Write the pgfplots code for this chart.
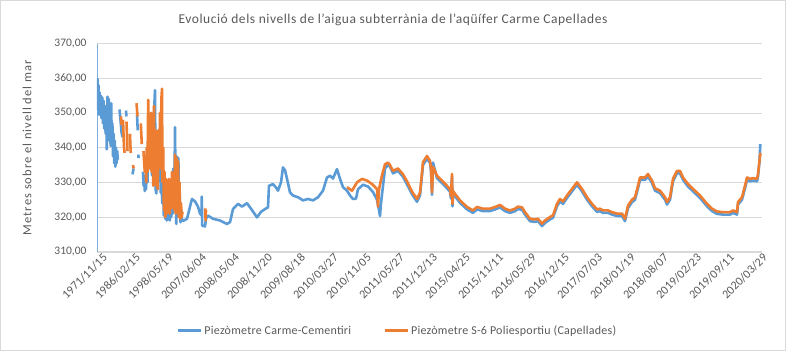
\documentclass[border=0pt]{standalone}
\usepackage{fontspec}
\setmainfont{Carlito}
\usepackage{pgfplots}
\pgfplotsset{compat=1.18}
\definecolor{sblue}{HTML}{5B9BD5}
\definecolor{sorange}{HTML}{ED7D31}
\definecolor{tgray}{HTML}{595959}
\definecolor{ggray}{HTML}{D9D9D9}
\definecolor{axblue}{HTML}{7FAEDC}
\begin{document}
\begin{tikzpicture}[x=1pt,y=1pt]
\begin{axis}[
  name=ax, scale only axis,
  width=664.5pt, height=208.1pt,
  xmin=97, xmax=761.5, ymin=310, ymax=370,
  unbounded coords=jump,
  axis x line*=bottom, axis y line*=left,
  x axis line style={ggray,-}, y axis line style={axblue,line width=0.8pt,-},
  ytick={310,320,...,370},
  ymajorgrids, grid style={ggray,line width=0.8pt},
  major tick length=0pt,
  xtick={97,130,163,196,229,262,295,328,361,394,427,460,493,526,559,592,625,658,691,724,757},
  xticklabels={1971/11/15,1986/02/15,1998/05/19,2007/06/04,2008/05/04,2008/11/20,2009/08/18,2010/03/27,2010/11/05,2011/05/27,2011/12/13,2015/04/25,2015/11/11,2016/05/29,2016/12/15,2017/07/03,2018/01/19,2018/08/07,2019/02/23,2019/09/11,2020/03/29},
  xticklabel style={rotate=45, anchor=north east, inner sep=1pt, xshift=4pt, yshift=-3pt, text=tgray, font=\fontsize{12}{14}\selectfont},
  yticklabel style={text=tgray, font=\fontsize{11.5}{13}\selectfont, xshift=-7pt},
  /pgf/number format/.cd, fixed, fixed zerofill, precision=2, use comma, assume math mode=true,
  /pgfplots/.cd,
  legend columns=2,
  legend style={at={(axis description cs:0.452,-0.381)}, anchor=center, draw=none, fill=none,
    font=\fontsize{12}{14}\selectfont\addfontfeatures{LetterSpace=2}, text=tgray,
    /tikz/every even column/.append style={column sep=30pt}},
  legend image code/.code={\draw[#1, line width=3pt] (0pt,0pt) -- (23pt,0pt);},
  every axis plot/.append style={line width=2.6pt, line join=round, no marks},
]
\addplot[sblue] coordinates {
(97.5,360)(98,351)(98.5,358)(99,349.5)(99.5,356)(100,350)(100.8,355)(101.5,348.5)(102.2,354.5)(103,347)(103.6,353.5)(104.3,345.5)(105,352)(105.6,344)(106.3,351)(106.8,339.5)(107.5,354.7)(108.2,344)(108.8,354)(109.4,342)(110,349)(110.6,340.5)(111.2,352.8)(111.8,341)(112.4,347)(113,337.5)(113.6,344)(114.2,335.5)(114.8,342)(115.4,334.5)(116,340)(116.6,335.5)(117.2,339)(117.8,336.5)
(118.5,nan)
(119.5,351)(120.5,348)(121.5,344.5)(122.5,343)
(123,nan)
(126,350.7)(126.5,349)
(127,nan)
(132.5,332.3)(133.6,334)
(134,nan)
(137,349.5)(137.4,347)(137.8,345)
(138,nan)
(138.3,338)(138.6,337)
(139,nan)
(143,333)(143.6,329)(144.2,332)(144.8,327.5)(145.4,331)(146,328)(146.8,336)(147.5,330)(148.3,342)(149,334)(149.8,348)(150.5,337)(151.3,350)(152,332)(152.8,345)(153.5,330)(154.3,352)(155,356.6)(155.6,328)(156.3,326.8)(157,340)(157.7,330)(158.5,345)(159.2,331)(160,338)(160.8,327)(161.5,333)(162.2,324)(163,330)(163.8,320.5)(164.5,327)(165.3,319.5)(166,324)(166.8,319)(167.5,326)(168.3,320)(169,330)(169.8,319)(170.5,328)(171.3,320)(172,331)(172.8,321)(173.5,334)(174.3,322)(175,345.9)(175.5,330)(176.3,318)(177,337.4)(177.7,325)(178.4,337)(179,320)(179.8,326)(180.5,318.5)(181.2,322)(182,319)(184,319)(187,319.5)(190,323)(192,325.2)(195,324.5)(198,323)(200,321)(201.5,320.5)(201.8,325.9)(202.2,317.5)(205,317.3)(206,319.5)(208,320.4)(213,319.5)(220,319)(227,318)(230,318.5)(233,322.3)(238,323.8)(242,323)(247,324)(252,322)(257,319.9)(261,321.5)(265,322.3)(268,322.8)(269,329)(273,329.5)(276,328.5)(278,327.6)(281,330)(283,334.3)(285,333.5)(287,331)(290,327.1)(293,326.2)(298,325.7)(303,324.8)(308,325.2)(313,324.8)(318,325.7)(323,327.6)(327,331.4)(330,331.9)(333,331.1)(337,333.8)(340,331)(343,328.6)(347,327.6)(350,326.2)(353,325.2)(356,325.3)(358,328)(363,329.3)(368,328.8)(373,327.2)(377,325)(379,322)(380,320.3)(381,324)(385,334)(388,335)(390,334.5)(393,332.6)(398,333.3)(403,331.6)(407,329.4)(412,326.6)(417,324.4)(420,326.2)(423,335)(427,336.8)(430,335.6)(431,333.5)(432,326.4)(433,335.7)(437,331.2)(442,329.8)(447,328.3)(450,327.3)(451,325.3)(452,331.7)(452.5,323.1)(453,326.8)(455,326)
(460,324.1)(467,322.2)(473,321.2)(477,322.2)(483,321.7)(490,321.7)(497,322.4)(500,322.8)(505,321.7)(510,321.2)(515,321.7)(518,322.3)(522,322.1)(525,320.7)(530,318.8)(535,318.6)(538,318.8)(542,317.4)(545,318.3)(550,319.3)(553,319.8)(557,323.1)(560,324.5)(563,323.8)(567,325.5)(572,327.4)(577,329.3)(582,327.4)(587,325)(592,323.1)(597,321.5)(600,321.7)(603,321.2)(608,321.2)(612,320.7)(617,320.3)(622,320.3)(625,318.8)(628,322.6)(632,324.3)(635,325)(638,328.3)(640,330.7)(645,330.7)(648,331.7)(652,329.8)(655,327.6)(660,326.9)(665,325)(667,323.6)(670,325)(673,330.3)(677,332.6)(680,332.6)(683,330.7)(688,328.8)(693,327.4)(700,325.5)(707,323.1)(712,321.7)(717,320.9)(723,320.7)(730,320.7)(733,321.2)(737,320.7)(738,323.6)(742,325)(745,328.3)(747,330.7)(750,330.3)(753,330.5)(757,330.3)(758,331.7)(759.5,336)(760.3,341)
};
\addlegendentry{Piezòmetre  Carme-Cementiri}
\addplot[sorange] coordinates {
(121,349)(121.6,346.5)
(122,nan)
(123,348)(123.5,344)(124,340)(124.6,338.5)
(125,nan)
(126.5,347.5)(127,343)(127.5,339)
(128,nan)
(130,344)(130.4,340.5)(130.8,338.5)
(131,nan)
(133,335)(133.7,334)
(134,nan)
(136.5,352.8)(137,351)(137.5,349)
(138,nan)
(140.8,347)(141.3,344)(141.8,341)
(142,nan)
(143.5,339)(144.2,335.5)(144.8,333)(145.5,336)(146.2,330)(146.8,340)(147.5,333)(148.2,353.8)(148.8,336)(149.5,348)(150.2,334)(151,350)(151.7,333)(152.5,347)(153.2,329)(154,352)(154.7,331)(155.5,345)(156.2,329)(157,343)(157.8,328)(158.5,345)(159.3,335)(160,350)(160.7,334)(161.4,354)(162,357)(162.5,330)(163.2,340)(163.9,322)(164.6,333)(165.3,320)(166,331)(166.8,321)(167.5,330)(168.3,323)(169,331)(169.8,321)(170.5,329)(171.3,322.5)(172,333)(172.8,323)(173.5,331)(174.3,322)(175,338)(175.7,321)(176.5,337)(177.2,322)(178,336)(178.8,320)(179.5,330)(180.3,319.5)(181,324)(181.7,320)(182.5,321.5)
(183,nan)
(205.3,322.5)(205.6,319)(206,322)
(207,nan)
(347,328.6)(352,327.6)(355,329)(357,330)(362,331)(367,330.5)(372,329.5)(377,328.1)(378,323)(379,328)(382,332)(385,335.2)(388,335.7)(390,335)(393,333.3)(398,334)(403,332.3)(407,330.3)(412,327.3)(417,325.2)(420,327)(423,335.8)(427,337.6)(430,336.2)(431,334)(432,327.1)(433,334.5)(437,331.9)(442,330.5)(447,329)(450,328)(451,326)(452,332.4)(452.5,323.8)(453,327.5)(455,326.7)(460,324.8)(467,322.9)(473,321.9)(477,322.9)(483,322.4)(490,322.4)(497,323.1)(500,323.5)(505,322.4)(510,321.9)(515,322.4)(518,323)(522,322.8)(525,321.4)(530,319.5)(535,319.3)(538,319.5)(542,318.1)(545,319)(550,320)(553,320.5)(557,323.8)(560,325.2)(563,324.5)(567,326.2)(572,328.1)(577,330)(582,328.1)(587,325.7)(592,323.8)(597,322.2)(600,322.4)(603,321.9)(608,321.9)(612,321.4)(617,321)(622,321)(625,319.5)(628,323.3)(632,325)(635,325.7)(638,329)(640,331.4)(645,331.4)(648,332.4)(652,330.5)(655,328.3)(660,327.6)(665,325.7)(667,324.3)(670,325.7)(673,331)(677,333.3)(680,333.3)(683,331.4)(688,329.5)(693,328.1)(700,326.2)(707,323.8)(712,322.4)(717,321.6)(723,321.4)(730,321.4)(733,321.9)(737,321.4)(738,324.3)(742,325.7)(745,329)(747,331.4)(750,331)(753,331.2)(757,331)(758,332.4)(760,337.6)(760.7,338.5)
};
\addlegendentry{Piezòmetre S-6 Poliesportiu (Capellades)}
\coordinate (sw) at (rel axis cs:0,0);
\end{axis}
\pgfresetboundingbox
\begin{scope}[shift={(sw)}]
\path[use as bounding box] (-97,-99.3) rectangle (689,251.7);
\draw[ggray] (-96.5,-98.8) rectangle (688.5,251.2);
\node[text=tgray,font=\fontsize{13.5}{15}\selectfont\addfontfeatures{LetterSpace=4}] at (296,231.7) {Evolució dels nivells de l'aigua subterrània de l'aqüífer Carme Capellades};
\node[text=tgray,font=\fontsize{12.5}{14}\selectfont\addfontfeatures{LetterSpace=8},rotate=90] at (-70,104) {Metres sobre el nivell del mar};
\end{scope}
\end{tikzpicture}
\end{document}
